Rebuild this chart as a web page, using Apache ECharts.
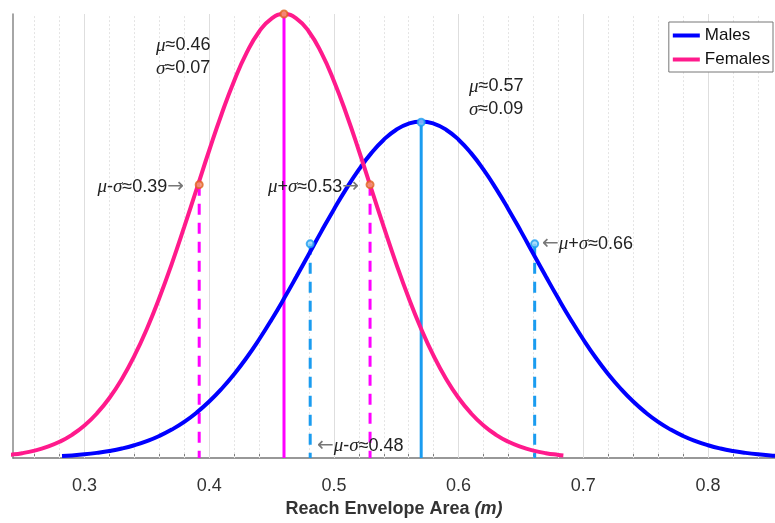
<!DOCTYPE html>
<html>
<head>
<meta charset="utf-8">
<script src="https://cdn.jsdelivr.net/npm/echarts@6/dist/echarts.min.js"></script>
<style>
  html, body { margin: 0; padding: 0; background: #fff; }
</style>
</head>
<body>
<div id="main" style="width: 775px; height: 523px"></div>
<script>
// curve values
const femaleX = [0.236, 0.24, 0.25, 0.26, 0.27, 0.28, 0.29, 0.30, 0.31, 0.32, 0.33, 0.34, 0.35, 0.36, 0.37, 0.38, 0.39, 0.40, 0.41, 0.42, 0.43, 0.44, 0.45, 0.46,
  0.47, 0.48, 0.49, 0.50, 0.51, 0.52, 0.53, 0.54, 0.55, 0.56, 0.57, 0.58, 0.59, 0.60, 0.61, 0.62, 0.63, 0.64, 0.65, 0.66, 0.67, 0.68, 0.684]
const femaleY = [0.034, 0.041, 0.063, 0.096, 0.143, 0.209, 0.299, 0.418, 0.574, 0.771, 1.016, 1.311, 1.658, 2.054, 2.494, 2.967, 3.457, 3.948, 4.417, 4.841, 5.200, 5.472, 5.642, 5.700,
  5.642, 5.472, 5.200, 4.841, 4.417, 3.948, 3.457, 2.967, 2.494, 2.054, 1.658, 1.311, 1.016, 0.771, 0.574, 0.418, 0.299, 0.209, 0.143, 0.096, 0.063, 0.041, 0.034]

const maleX = [0.282, 0.29, 0.30, 0.31, 0.32, 0.33, 0.34, 0.35, 0.36, 0.37, 0.38, 0.39, 0.40, 0.41, 0.42, 0.43, 0.44, 0.45, 0.46, 0.47, 0.48, 0.49, 0.50, 0.51, 0.52, 0.53, 0.54, 0.55, 0.56, 0.57,
  0.58, 0.59, 0.60, 0.61, 0.62, 0.63, 0.64, 0.65, 0.66, 0.67, 0.68, 0.69, 0.70, 0.71, 0.72, 0.73, 0.74, 0.75, 0.76, 0.77, 0.78, 0.79, 0.80, 0.81, 0.82, 0.83, 0.84, 0.85, 0.858]
const maleY = [0.026, 0.034, 0.048, 0.067, 0.091, 0.123, 0.165, 0.218, 0.284, 0.366, 0.465, 0.585, 0.726, 0.890, 1.077, 1.288, 1.522, 1.776, 2.047, 2.330, 2.620, 2.910, 3.192, 3.459, 3.702, 3.914, 4.087, 4.215, 4.293, 4.320,
  4.293, 4.215, 4.087, 3.914, 3.702, 3.459, 3.192, 2.910, 2.620, 2.330, 2.047, 1.776, 1.522, 1.288, 1.077, 0.890, 0.726, 0.585, 0.465, 0.366, 0.284, 0.218, 0.165, 0.123, 0.091, 0.067, 0.048, 0.034, 0.026]

// mu-sigma, mu, mu+sigma markers
const femaleMarkX = [0.392, 0.46, 0.529]
const femaleMarkY = [3.51, 5.70, 3.51]
const maleMarkX = [0.481, 0.57, 0.661]
const maleMarkY = [2.75, 4.31, 2.75]

const xTickValues = [0.26, 0.28, 0.30, 0.32, 0.34, 0.36, 0.38, 0.40, 0.42, 0.44, 0.46, 0.48, 0.50, 0.52, 0.54, 0.56, 0.58, 0.60, 0.62, 0.64, 0.66, 0.68, 0.70, 0.72, 0.74, 0.76, 0.78, 0.80, 0.82, 0.84]
const xLabelValues = [0.3, 0.4, 0.5, 0.6, 0.7, 0.8]

const FEMALE = '#ff1a8c'
const MALE = '#0000ff'
const FEMALE_V = '#ff00ff'
const MALE_V = '#1a9cf0'
const FEMALE_DOT = '#e0601f'

const pairs = (xs, ys) => xs.map((x, i) => [x, ys[i]])

var myChart = echarts.init(document.getElementById('main'))

// 网格线
const gridLines = xTickValues.map(function(v) {
  const major = xLabelValues.some(function(m) { return Math.abs(m - v) < 1e-6 })
  return {
    xAxis: v,
    lineStyle: major ? { color: '#dedede', type: 'solid', width: 1 } : { color: '#e4e4e4', type: [2, 2], width: 1 }
  }
})

function vline(name, x, y, color, dashed) {
  return {
    name: name,
    type: 'line',
    data: [[x, y], [x, 0]],
    symbol: 'none',
    clip: false,
    silent: true,
    z: 3,
    lineStyle: { color: color, width: 3, type: dashed ? [11, 8] : 'solid' }
  }
}

const series = [
  {
    name: 'grid',
    type: 'line',
    data: [],
    z: 1,
    silent: true,
    markLine: { symbol: 'none', silent: true, z: 1, label: { show: false }, data: gridLines }
  },
  vline('fMean', femaleMarkX[1], femaleMarkY[1], FEMALE_V, false),
  vline('mMean', maleMarkX[1], maleMarkY[1], MALE_V, false),
  vline('fLo', femaleMarkX[0], femaleMarkY[0], FEMALE_V, true),
  vline('fHi', femaleMarkX[2], femaleMarkY[2], FEMALE_V, true),
  vline('mLo', maleMarkX[0], maleMarkY[0], MALE_V, true),
  vline('mHi', maleMarkX[2], maleMarkY[2], MALE_V, true),
  {
    name: 'Males',
    type: 'line',
    data: pairs(maleX, maleY),
    smooth: true,
    symbol: 'none',
    clip: true,
    z: 4,
    color: MALE,
    lineStyle: { color: MALE, width: 4 }
  },
  {
    name: 'Females',
    type: 'line',
    data: pairs(femaleX, femaleY),
    smooth: true,
    symbol: 'none',
    clip: false,
    z: 5,
    color: FEMALE,
    lineStyle: { color: FEMALE, width: 4 }
  },
  {
    name: 'fDots',
    type: 'scatter',
    data: pairs(femaleMarkX, femaleMarkY),
    symbolSize: 7,
    clip: false,
    z: 6,
    itemStyle: { color: '#f2a070', borderColor: FEMALE_DOT, borderWidth: 2 }
  },
  {
    name: 'mDots',
    type: 'scatter',
    data: pairs(maleMarkX, maleMarkY),
    symbolSize: 7,
    clip: false,
    z: 6,
    itemStyle: { color: '#9ad4f8', borderColor: MALE_V, borderWidth: 2 }
  }
]

const rich = {
  g: { fontFamily: 'Liberation Serif', fontStyle: 'italic', fontSize: 19, fill: '#222', color: '#222' },
  a: { fontFamily: 'DejaVu Sans', fontSize: 20, fill: '#777', color: '#777' }
}

function note(x, y, text, align) {
  return {
    type: 'text',
    x: x,
    y: y,
    z: 10,
    silent: true,
    style: {
      text: text,
      rich: rich,
      fontFamily: 'Liberation Sans',
      fontSize: 18,
      fill: '#222',
      align: align || 'left',
      verticalAlign: 'middle',
      lineHeight: 23
    }
  }
}

var option = {
  animation: false,
  backgroundColor: '#fff',
  grid: { left: 13, right: 0, top: 14, bottom: 61, containLabel: false },
  legend: {
    data: ['Males', 'Females'],
    orient: 'vertical',
    right: 2,
    top: 22,
    icon: 'rect',
    itemWidth: 27,
    itemHeight: 4,
    itemGap: 7,
    padding: [5, 3, 4, 4],
    backgroundColor: '#fff',
    borderColor: '#777',
    borderWidth: 1,
    borderRadius: 0,
    textStyle: { fontFamily: 'Liberation Sans', fontSize: 17, color: '#111' }
  },
  xAxis: {
    type: 'value',
    min: 0.2427,
    max: 0.8537,
    name: '{b|Reach Envelope Area }{i|(m)}',
    nameLocation: 'middle',
    nameGap: 36,
    nameTextStyle: {
      rich: {
        b: { fontFamily: 'Liberation Sans', fontWeight: 'bold', fontSize: 18, color: '#333' },
        i: { fontFamily: 'Liberation Sans', fontWeight: 'bold', fontStyle: 'italic', fontSize: 18, color: '#333' }
      }
    },
    axisLine: { show: true, onZero: false, lineStyle: { color: '#777', width: 1.5 } },
    axisTick: { show: true, inside: true, length: 5, customValues: xTickValues, lineStyle: { color: '#777' } },
    axisLabel: {
      customValues: xLabelValues,
      formatter: function(v) { return v.toFixed(1) },
      fontFamily: 'Liberation Sans',
      fontSize: 18,
      color: '#333',
      margin: 19
    },
    splitLine: { show: false }
  },
  yAxis: {
    type: 'value',
    min: 0,
    max: 5.70,
    axisLine: { show: true, lineStyle: { color: '#888', width: 1.5 } },
    axisTick: { show: false },
    axisLabel: { show: false },
    splitLine: { show: false }
  },
  graphic: [
    note(156, 57, '{g|μ}≈0.46\n{g|σ}≈0.07'),
    note(469, 98, '{g|μ}≈0.57\n{g|σ}≈0.09'),
    note(184, 187, '{g|μ}-{g|σ}≈0.39{a|→}', 'right'),
    note(359, 187, '{g|μ}+{g|σ}≈0.53{a|→}', 'right'),
    note(542, 244, '{a|←}{g|μ}+{g|σ}≈0.66'),
    note(317, 446, '{a|←}{g|μ}-{g|σ}≈0.48')
  ],
  series: series
}

myChart.setOption(option)
</script>
</body>
</html>
